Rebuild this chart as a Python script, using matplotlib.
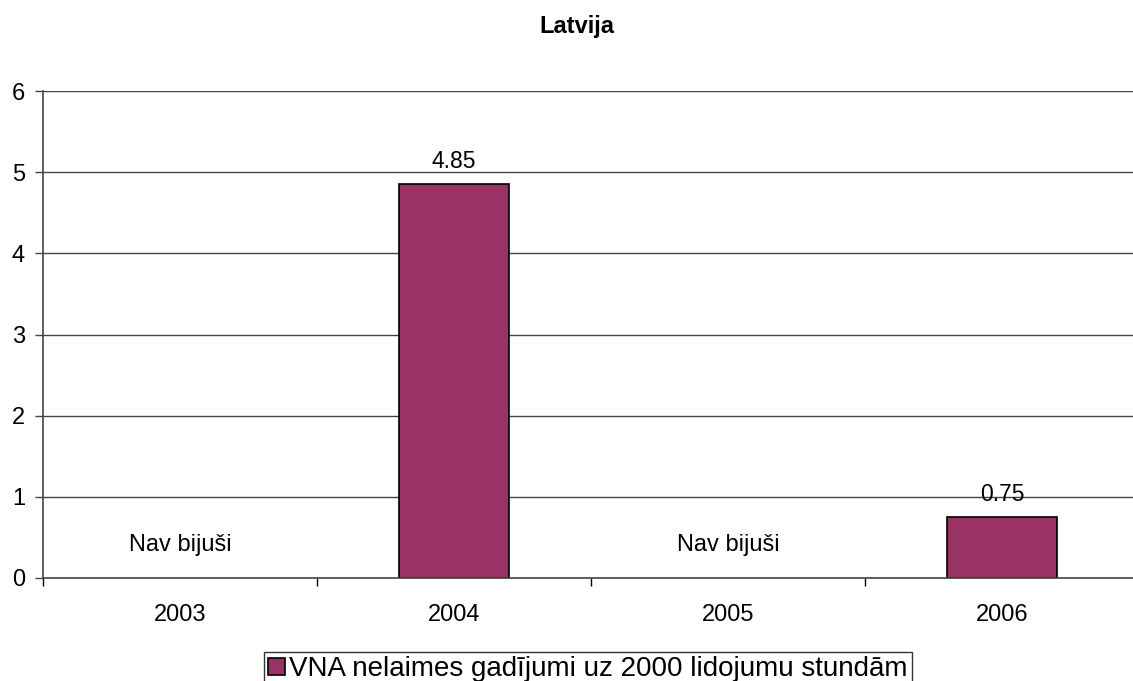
import numpy as np
import matplotlib.pyplot as plt

plt.rcParams['font.family'] = ['Liberation Sans', 'DejaVu Sans']

years = ["2003", "2004", "2005", "2006"]
values = [np.nan, 4.85, np.nan, 0.75]
no_data_text = "Nav bijuši"
series_label = "VNA nelaimes gadījumi uz 2000 lidojumu stundām"
title = "Latvija"

W, H = 1133, 681
fig = plt.figure(figsize=(W / 100, H / 100), dpi=100)
# plot area runs past the right edge of the canvas
ax = fig.add_axes([43 / W, 1 - 578 / H, 1096 / W, (578 - 91) / H])

x = np.arange(len(years))
vals = np.array(values, dtype=float)
has_val = ~np.isnan(vals)

ax.set_axisbelow(True)
ax.yaxis.grid(True, color="#444444", linewidth=1.0)
bars = ax.bar(x[has_val], vals[has_val], width=0.4, color="#993366",
              edgecolor="black", linewidth=1.2, label=series_label)

for xi, v in zip(x, vals):
    if np.isnan(v):
        ax.text(xi, 0.41, no_data_text, ha="center", va="center", fontsize=17)
    else:
        ax.annotate(f"{v:.2f}", (xi, v), xytext=(0, 8), textcoords="offset points",
                    ha="center", va="bottom", fontsize=16.5)

ax.set_xlim(-0.5, len(years) - 0.5)
ax.set_ylim(0, 6)
ax.set_yticks(range(7))
ax.set_xticks(x)
ax.set_xticklabels(years)
ax.set_xticks(np.arange(-0.5, len(years)), minor=True)
ax.tick_params(axis="x", which="major", length=0, pad=19, labelsize=17)
ax.tick_params(axis="x", which="minor", length=6, width=1, color="black")
ax.tick_params(axis="y", length=6, width=1, pad=7, labelsize=17, color="#444444")

for s in ("top", "right"):
    ax.spines[s].set_visible(False)
ax.spines["left"].set_color("#444444")
ax.spines["bottom"].set_color("#444444")
ax.spines["left"].set_linewidth(1.2)
ax.spines["bottom"].set_linewidth(1.2)

fig.text(577 / W, 1 - 27 / H, title, ha="center", va="center",
         fontsize=17, fontweight="bold")

leg = fig.legend(handles=[bars], labels=[series_label], loc="upper center",
                 bbox_to_anchor=(588 / W, 1 - 652 / H), fontsize=20,
                 frameon=True, fancybox=False, edgecolor="black",
                 handlelength=0.6, handleheight=0.6, handletextpad=0.15,
                 borderpad=0.15, borderaxespad=0)
leg.get_frame().set_linewidth(1.0)

fig.savefig("out.png", dpi=100)
